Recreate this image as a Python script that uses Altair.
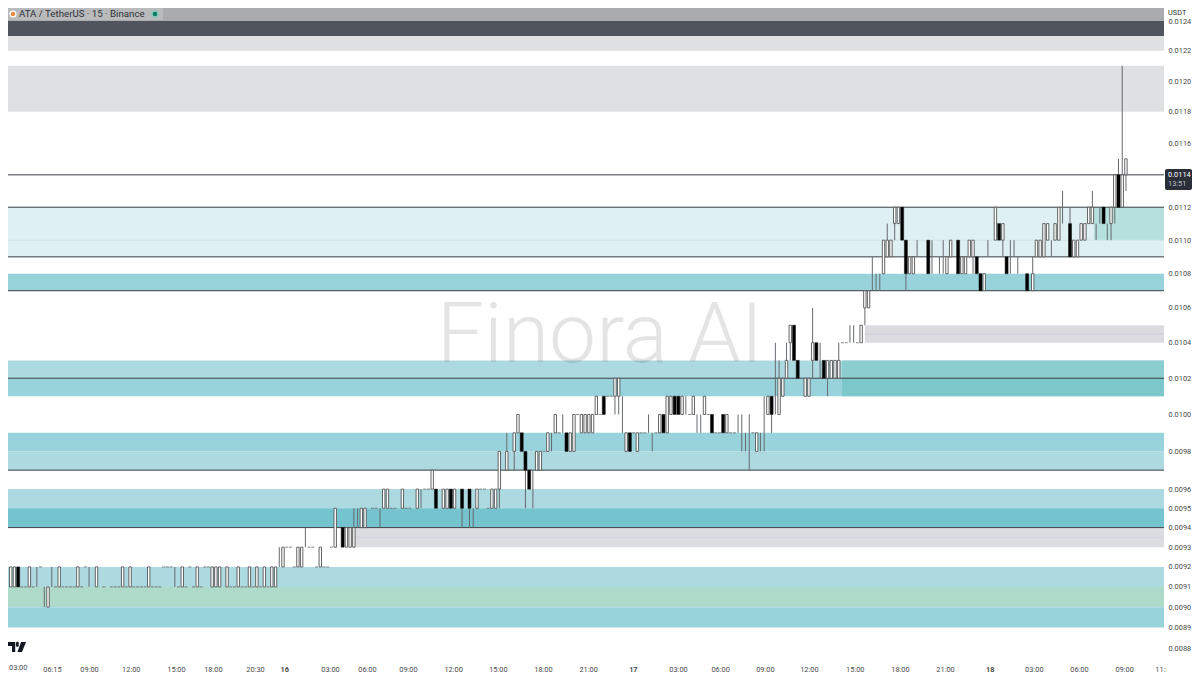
import json
import altair as alt
import pandas as pd

# ---- price bands (units of 0.0001 USDT) ----
band_low = [124, 123, 122, 118, 109, 107, 102, 101, 98, 97, 95, 94, 91, 90, 89,
            102, 101, 110, 104, 93]
band_high = [125, 124, 123, 121, 112, 108, 103, 102, 99, 98, 96, 95, 92, 91, 90,
             103, 102, 112, 105, 94]
band_start = [0.27] * 15 + [223.9, 223.9, 291.4, 230, 92]
band_color = ["#a9abae", "#50545c", "#dfe0e2", "#dfe0e2", "#dff0f2", "#98d3dc",
              "#add9e1", "#98d3dc", "#98d3dc", "#add9e1", "#add9e1", "#74c3cf",
              "#add9e1", "#aedaca", "#98d3dc",
              "#8ccdd0", "#7cc7c9", "#b5e0dd", "#dcdbe0", "#dcdde0"]

line_level = [114, 112, 109, 107, 102, 97, 94]
soft_level = [110, 104.5, 93.5]
soft_color = ["#cfe6e8", "#d0ccdc", "#d6d0e0"]

# ---- candles ----
up_bar = [1, 2, 6, 11, 14, 19, 24, 31, 33, 38, 47, 51, 55, 56, 57, 59, 62, 65, 67, 69, 71, 72,
          74, 78, 79, 84, 88, 91, 92, 93, 95, 96, 101, 102, 106, 110, 114, 117, 118, 120, 126,
          130, 131, 132, 134, 136, 137, 142, 143, 145, 147, 151, 152, 154, 155, 156, 157, 158,
          163, 164, 166, 169, 175, 177, 178, 181, 184, 187, 193, 201, 204, 207, 208, 209, 210,
          214, 215, 216, 220, 221, 222, 223, 229, 230, 231, 235, 236, 237, 238, 239, 242, 243,
          252, 253, 256, 257, 258, 259, 262, 265, 267, 275, 276, 277, 278, 279, 281, 282, 286,
          287, 288, 289, 290, 291, 296, 297, 299, 300]
up_open = [91, 91, 91, 90, 91, 91, 91, 91, 91, 91, 91, 91, 91, 91, 91, 91, 91, 91, 91, 91, 91, 91,
           92, 92, 92, 92, 93, 93, 93, 93, 94, 94, 95, 95, 95, 95, 96, 95, 95, 95, 95,
           95, 95, 96, 97, 98, 99, 97, 97, 98, 99, 98, 98, 99, 99, 99, 99, 100,
           101, 101, 98, 98, 99, 99, 100, 100, 100, 100, 99, 98, 100, 100, 101, 102, 104,
           101, 101, 103, 102, 102, 102, 102, 104, 106, 106, 108, 109, 109, 111, 111, 108, 108,
           108, 109, 108, 108, 109, 109, 107, 110, 110, 107, 109, 109, 109, 110, 110, 110, 109,
           109, 110, 110, 111, 111, 111, 112, 112, 114]
up_close = [92, 92, 92, 91, 92, 92, 92, 92, 92, 92, 92, 92, 92, 92, 92, 92, 92, 92, 92, 92, 92, 92,
            93, 93, 93, 93, 95, 94, 94, 94, 95, 95, 96, 96, 96, 96, 97, 96, 96, 96, 96,
            96, 96, 98, 98, 99, 100, 98, 98, 99, 100, 99, 100, 100, 100, 100, 100, 101,
            102, 102, 99, 99, 100, 101, 101, 101, 101, 101, 100, 99, 101, 102, 102, 103, 105,
            102, 102, 104, 103, 103, 103, 103, 105, 107, 107, 110, 110, 110, 112, 112, 109, 109,
            109, 110, 109, 109, 110, 110, 108, 112, 111, 108, 110, 110, 111, 111, 111, 112, 110,
            110, 111, 111, 112, 112, 112, 114, 114, 115]

down_bar = [3, 90, 115, 119, 122, 124, 138, 139, 140, 150, 160, 167, 176, 179, 180, 189, 192, 205,
            211, 212, 217, 219, 240, 241, 247, 255, 260, 261, 266, 268, 273.5, 285, 294, 298]
down_open = [92, 94, 96, 96, 96, 96, 99, 98, 97, 99, 101, 99, 100, 101, 101, 100, 100, 101,
             105, 103, 104, 103, 112, 110, 110, 110, 109, 108, 111, 109, 108, 111, 112, 114]
down_close = [91, 93, 95, 95, 95, 95, 98, 97, 96, 98, 100, 98, 99, 100, 100, 99, 99, 100,
              103, 102, 103, 102, 110, 108, 108, 108, 108, 107, 110, 108, 107, 109, 111, 112]

wick_bar = [8, 10, 12, 22, 45, 73, 80, 93, 94, 100, 111, 122, 124, 125, 132, 134, 136, 139, 141,
            146, 149, 163, 164, 165, 172, 173, 182, 185, 186, 196, 197, 198, 199, 202, 203, 205,
            206, 207, 209, 210, 216, 218, 220, 223, 226, 227, 230, 232, 233, 234, 236, 238, 241,
            244, 248, 250, 251, 259, 263, 267, 269, 270, 271, 275, 280, 283, 285, 291, 292, 293,
            295, 296, 297, 298, 299, 300]
wick_low = [91, 90, 91, 91, 91, 92, 93, 94, 94, 94, 95, 94, 94, 94, 95, 98, 97, 95, 95,
            98, 99, 100, 100, 99, 99, 98, 100, 99, 99, 99, 98, 98, 97, 98, 98, 99,
            100, 102, 103, 103, 102, 102, 101, 103, 104, 104, 105, 107, 107, 107, 110, 110, 107,
            109, 108, 108, 108, 108, 109, 109, 108, 109, 108, 108, 109, 111, 111, 112, 110, 111,
            110, 110, 111, 114, 114, 113]
wick_high = [92, 91, 92, 92, 92, 93, 94, 95, 95, 95, 96, 95, 95, 95, 96, 99, 98, 97, 97,
             99, 100, 101, 101, 101, 100, 99, 101, 100, 100, 100, 100, 99, 100, 99, 101, 100,
             104, 103, 104, 104, 106, 104, 102, 104, 105, 105, 106, 109, 108, 108, 111, 111, 108,
             110, 110, 109, 110, 109, 110, 110, 110, 110, 109, 109, 110, 113, 112, 113, 111, 112,
             111, 111, 112, 115, 121, 114]

doji_bar = [9, 21, 42, 43, 44, 49, 53, 54,
            4, 5, 7, 13, 15, 16, 17, 18, 20, 26, 28, 29, 30, 32, 34, 35, 36, 37, 39, 40, 41,
            46, 48, 50, 52, 60, 61, 63, 64, 66, 68, 70,
            75, 76, 81, 82, 87, 77, 83, 85, 86,
            98, 99, 103, 104, 107, 108, 112, 113, 127, 128, 129,
            144, 148, 153, 159, 161, 162, 168, 170, 171, 174, 183, 188,
            190, 191, 194, 195, 200, 224, 225, 228]
doji_level = [92, 92, 92, 92, 92, 92, 92, 92,
              91, 91, 91, 91, 91, 91, 91, 91, 91, 91, 91, 91, 91, 91, 91, 91, 91, 91, 91, 91, 91,
              91, 91, 91, 91, 91, 91, 91, 91, 91, 91, 91,
              93, 93, 93, 93, 93, 92, 92, 92, 92,
              95, 95, 95, 95, 95, 95, 96, 96, 96, 96, 95,
              98, 99, 100, 100, 101, 101, 99, 99, 99, 99, 100, 100,
              99, 99, 99, 99, 99, 104, 104, 104]

# ---- axes ----
y_ticks = [124, 122, 120, 118, 116, 114, 112, 110, 108, 106, 104, 102, 100, 98, 96,
           95, 94, 93, 92, 91, 90, 89, 88]
x_tick_bar = [12.06, 22, 33.2, 45.3, 55.2, 66.5, 74.3, 86.6, 96.5, 107.5, 119.6, 131.6, 143.7,
              155.8, 167.8, 179.9, 191.2, 203.2, 215, 227.3, 239.4, 251.5, 263.5, 275.3, 287.4,
              299.5, 309.1]
x_tick_text = ["06:15", "09:00", "12:00", "15:00", "18:00", "20:30", "16", "03:00", "06:00",
               "09:00", "12:00", "15:00", "18:00", "21:00", "17", "03:00", "06:00", "09:00", "12:00",
               "15:00", "18:00", "21:00", "18", "03:00", "06:00", "09:00", "11:"]

UNIT = 0.0001
X_DOMAIN = [0.27, 310.2]
Y_DOMAIN = [0.0087435, 0.012489]
W, H = 1156, 652
FONT = "Roboto"
TEXT = "#4a4a4a"
AXIS_SIZE = 7.4

xs = alt.Scale(domain=X_DOMAIN, nice=False, zero=False, padding=0)
ys = alt.Scale(type="log", domain=Y_DOMAIN, nice=False, zero=False, padding=0)

label_map = json.dumps({str(b): t for b, t in zip(x_tick_bar, x_tick_text)})
x_axis = alt.Axis(values=x_tick_bar, labelExpr=f"{label_map}[''+datum.value]", title=None,
                  grid=False, ticks=False, domain=False, labelOverlap=False, labelFlush=False,
                  labelBound=False, labelPadding=5, labelFont=FONT, labelFontSize=AXIS_SIZE,
                  labelColor=TEXT, labelAngle=0,
                  labelFontWeight=alt.expr("indexof([74.3,167.8,263.5],datum.value)>=0?'bold':'normal'"))
y_axis = alt.Axis(values=[v * UNIT for v in y_ticks], format=".4f", orient="right", title=None,
                  grid=False, ticks=False, domain=False, labelOverlap=False, labelFlush=False,
                  labelBound=False, labelPadding=4, labelFont=FONT, labelFontSize=AXIS_SIZE, labelColor=TEXT)
X = lambda f: alt.X(f, type="quantitative", scale=xs, axis=x_axis)
Y = lambda f: alt.Y(f, type="quantitative", scale=ys, axis=y_axis)

bands = pd.DataFrame({"lo": [v * UNIT for v in band_low], "hi": [v * UNIT for v in band_high],
                      "start": band_start, "end": X_DOMAIN[1], "c": band_color})
band_layer = alt.Chart(bands).mark_rect(clip=True).encode(
    x=X("start"), x2="end:Q", y=Y("lo"), y2="hi:Q", color=alt.Color("c:N", scale=None))

soft = pd.DataFrame({"y": [v * UNIT for v in soft_level], "c": soft_color, "s": [0.27, 230, 92]})
soft_layer = alt.Chart(soft).mark_rule(strokeWidth=1).encode(
    x=X("s"), x2=alt.value(W), y=Y("y"), color=alt.Color("c:N", scale=None))

empty = alt.Data(values=[{"a": 1}])
watermark = alt.Chart(empty).mark_text(
    text="Finora AI", font="Roboto", fontSize=84, fontWeight=300, color="#000000", opacity=0.1,
    align="center", baseline="middle").encode(x=alt.value(592), y=alt.value(329))

lines = pd.DataFrame({"y": [v * UNIT for v in line_level]})
line_layer = alt.Chart(lines).mark_rule(color="#3a3f45", strokeWidth=1).encode(y=Y("y"))

wicks = pd.DataFrame({"b": wick_bar, "lo": [v * UNIT for v in wick_low], "hi": [v * UNIT for v in wick_high]})
wick_layer = alt.Chart(wicks).mark_rule(color="#666a6e", strokeWidth=1).encode(x=X("b"), y=Y("lo"), y2="hi:Q")

dojis = pd.DataFrame({"b": doji_bar, "y": [v * UNIT for v in doji_level]})
doji_layer = alt.Chart(dojis).mark_tick(orient="horizontal", size=3, thickness=1, color="#555555").encode(
    x=X("b"), y=Y("y"))

ups = pd.DataFrame({"b": up_bar, "o": [v * UNIT for v in up_open], "c": [v * UNIT for v in up_close]})
up_layer = alt.Chart(ups).mark_bar(orient="vertical", size=2.4, color="#ffffff", stroke="#555555", strokeWidth=0.9).encode(
    x=X("b"), y=Y("o"), y2="c:Q")
downs = pd.DataFrame({"b": down_bar, "o": [v * UNIT for v in down_open], "c": [v * UNIT for v in down_close]})
down_layer = alt.Chart(downs).mark_bar(orient="vertical", size=3, color="#000000", stroke="#111111", strokeWidth=0.5).encode(
    x=X("b"), y=Y("o"), y2="c:Q")


def box(x1, x2, y1, y2, **kw):
    return alt.Chart(empty).mark_rect(**kw).encode(
        x=alt.value(x1 - 8), x2=alt.value(x2 - 8), y=alt.value(y1 - 8), y2=alt.value(y2 - 8))


def label(text, x, y, **kw):
    args = dict(font=FONT, fontSize=AXIS_SIZE, color=TEXT, align="left", baseline="middle")
    args.update(kw)
    return alt.Chart(empty).mark_text(text=text, **args).encode(x=alt.value(x - 8), y=alt.value(y - 8))


def dot(x, y, size, color, **kw):
    return alt.Chart(empty).mark_point(filled=True, opacity=1, size=size, color=color, **kw).encode(
        x=alt.value(x - 8), y=alt.value(y - 8))


TV_LOGO = "M-1 -0.55 H-0.2 V0.55 H-0.55 V-0.1 H-1 Z M0.45 -0.55 H1 L0.55 0.55 H0.05 Z M0.17 -0.3 A0.17 0.17 0 1 1 -0.09 -0.3 A0.17 0.17 0 1 1 0.17 -0.3 Z"

extras = [
    box(8, 163, 8, 20, color="#ffffff", opacity=0.18),
    dot(13, 14, 50, "#ffffff"),
    dot(13, 14, 20, "#ec8a3a"),
    label("ATA / TetherUS · 15 · Binance", 19, 14, fontSize=9.7, color="#2e3238"),
    dot(155, 14, 60, "#8fc9bb"),
    dot(155, 14, 20, "#0a7a63"),
    dot(17, 647, 324, "#131722", shape=TV_LOGO),
    box(1165, 1192, 8, 18, color="#ffffff"),
    label("USDT", 1168, 13, color="#333333"),
    box(1165, 1192, 169, 190, color="#2a2e39", cornerRadius=2),
    label("0.0114", 1168, 175, color="#ffffff"),
    label("13:51", 1168, 184, color="#b8bcc4"),
    label("03:00", 9, 668),
]

chart = alt.layer(band_layer, soft_layer, watermark, line_layer, wick_layer, doji_layer,
                  up_layer, down_layer, *extras).properties(
    width=W, height=H,
    autosize=alt.AutoSizeParams(type="none"),
    padding={"left": 0, "top": 0, "right": 28, "bottom": 15},
).configure_view(stroke=None)

chart.save("out.html", embed_options={"renderer": "svg", "actions": False})
